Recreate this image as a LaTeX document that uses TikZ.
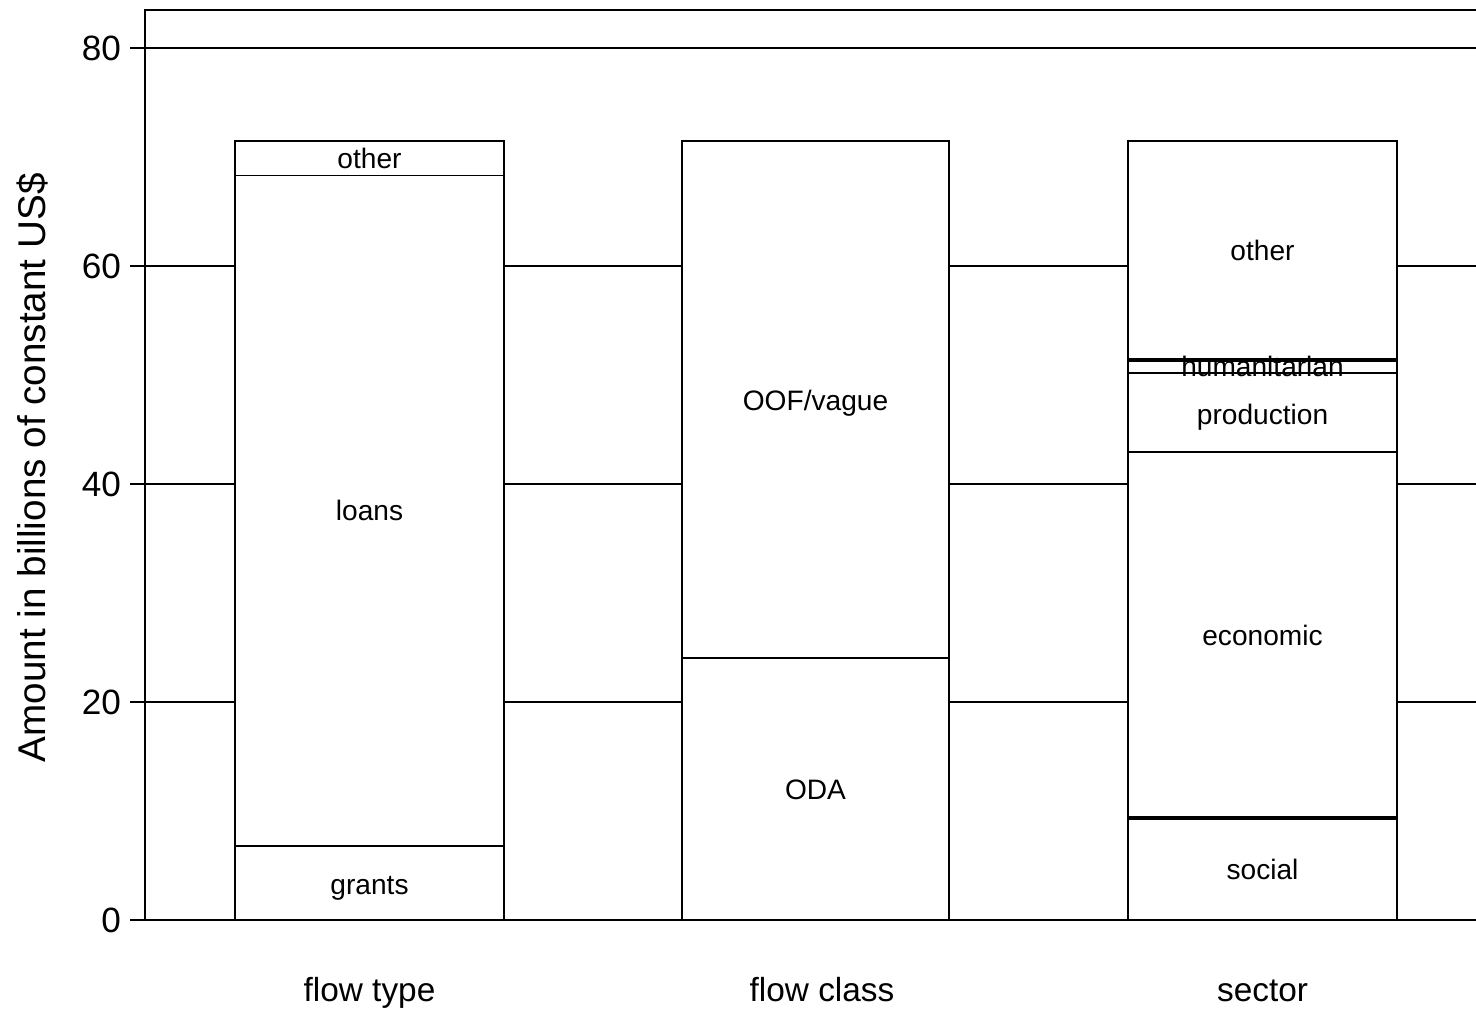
\documentclass[tikz,border=0pt]{standalone}
\usepackage{fontspec}
\setmainfont{Liberation Sans}
\usetikzlibrary{positioning}
\tikzset{>=latex}
\tikzstyle{bar}=[draw=black,fill=white,line width=1.1pt]
\tikzstyle{gridline}=[black,line width=1.1pt]
\tikzstyle{sepline}=[black,line width=2.3pt]
\tikzstyle{seglabel}=[font=\fontsize{16}{18}\selectfont,inner sep=0,text height=0.72em,text depth=0.21em,yshift=-2.8pt]
\tikzstyle{ticklabel}=[font=\fontsize{20}{22}\selectfont,anchor=east,inner sep=0]
\tikzstyle{catlabel}=[font=\fontsize{19}{21}\selectfont,inner sep=0,anchor=base]

\begin{document}
\begin{tikzpicture}[x=0.02cm,y=0.02cm,line width=1.1pt]
	
	\def\u{10.9}      % pixels per billion US$
	\def\W{1331}      % right edge of plot area
	\def\T{910}       % top frame
	\useasboundingbox (-145,-91) rectangle (\W,920);
	
	% GRID AND FRAME
	\foreach \v in {20,40,60,80}
	\draw[gridline] (-15,\v*\u) -- (\W,\v*\u);
	\draw[gridline] (-15,0) -- (\W,0);
	\draw[gridline] (\W,\T) -- (0,\T) -- (0,0);
	
	% TICK LABELS
	\foreach \v in {0,20,40,60,80}
	\node[ticklabel] (tick\v) at (-23,\v*\u) {\v};
	\node[rotate=90,font=\fontsize{22}{24}\selectfont,inner sep=0] (ylab) at (-112,41.5*\u) {Amount in billions of constant US\$};
	
	% FLOW TYPE
	\draw[bar] (90,0) rectangle (359,71.5*\u);
	\draw[gridline] (90,6.8*\u) -- (359,6.8*\u);
	\draw[gridline] (90,68.3*\u) -- (359,68.3*\u);
	\node[seglabel] (grants) at (224.5,3.2*\u) {grants};
	\node[seglabel] (loans) at (224.5,37.5*\u) {loans};
	\node[seglabel] (other1) at (224.5,69.8*\u) {other};
	
	% FLOW CLASS
	\draw[bar] (537,0) rectangle (804,71.5*\u);
	\draw[gridline] (537,24*\u) -- (804,24*\u);
	\node[seglabel] (oda) at (670.5,11.9*\u) {ODA};
	\node[seglabel] (oof) at (670.5,47.6*\u) {OOF/vague};
	
	% SECTOR
	\draw[bar] (983,0) rectangle (1252,71.5*\u);
	\draw[sepline] (983,9.4*\u) -- (1252,9.4*\u);
	\draw[gridline] (983,42.9*\u) -- (1252,42.9*\u);
	\draw[gridline] (983,50.2*\u) -- (1252,50.2*\u);
	\draw[sepline] (983,51.4*\u) -- (1252,51.4*\u);
	\node[seglabel] (social) at (1117.5,4.6*\u) {social};
	\node[seglabel] (economic) at (1117.5,26*\u) {economic};
	\node[seglabel] (production) at (1117.5,46.3*\u) {production};
	\node[seglabel] (humanit) at (1117.5,50.7*\u) {humanitarian};
	\node[seglabel] (other3) at (1117.5,61.4*\u) {other};
	
	% CATEGORIES
	\node[catlabel] (ftype) at (224.5,-81) {flow type};
	\node[catlabel] (fclass) at (677,-81) {flow class};
	\node[catlabel] (sector) at (1117.5,-81) {sector};
	
\end{tikzpicture}
\end{document}
